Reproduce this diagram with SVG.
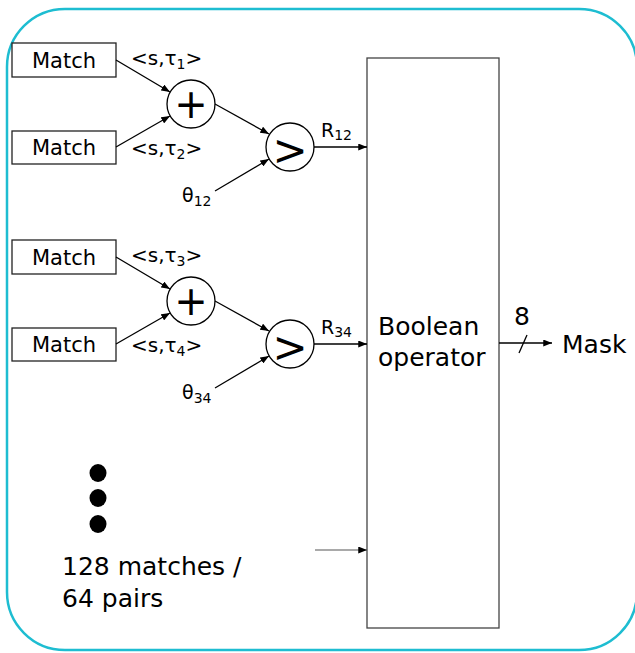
<svg xmlns="http://www.w3.org/2000/svg" width="635" height="653" viewBox="0 0 635 653">
<defs>
<style>
text{font-family:"DejaVu Sans","Liberation Sans",sans-serif;fill:#000}
.box{fill:#fff;stroke:#222;stroke-width:1.3}
.circ{fill:#fff;stroke:#000;stroke-width:1.3}
.lbl{font-size:20px}
.lbl2{font-size:19px}
.sub{font-size:14px}
.match{font-size:21px;text-anchor:middle}
.big{font-size:25px}
.op{text-anchor:middle}
.edge{stroke:#000;stroke-width:1.3;fill:none}
</style>
<marker id="arr" viewBox="0 0 10 8" refX="10" refY="4" markerWidth="9" markerHeight="7" markerUnits="userSpaceOnUse" orient="auto">
<path d="M0,0 L10,4 L0,8 Z" fill="#000"/>
</marker>
</defs>
<rect id="frame" x="7" y="9" width="630" height="641" rx="58" ry="58" fill="#fff" stroke="#1ebdd1" stroke-width="2.5"/>

<g id="match1"><rect class="box" x="12" y="43" width="104" height="34"/><text class="match" x="64" y="68">Match</text></g>
<g id="match2"><rect class="box" x="12" y="131" width="104" height="33"/><text class="match" x="64" y="155">Match</text></g>
<g id="match3"><rect class="box" x="12" y="240" width="104" height="34"/><text class="match" x="64" y="265">Match</text></g>
<g id="match4"><rect class="box" x="12" y="328" width="104" height="33"/><text class="match" x="64" y="352">Match</text></g>

<g id="plus1"><circle class="circ" cx="191" cy="104" r="24"/><text class="op" x="191" y="118" font-size="40">+</text></g>
<g id="plus2"><circle class="circ" cx="191" cy="301" r="24"/><text class="op" x="191" y="315" font-size="40">+</text></g>
<g id="gt1"><circle class="circ" cx="290" cy="147" r="24"/><text class="op" x="290" y="165" font-size="42">&gt;</text></g>
<g id="gt2"><circle class="circ" cx="290" cy="344" r="24"/><text class="op" x="290" y="362" font-size="42">&gt;</text></g>

<g id="boolean"><rect x="367" y="58" width="132" height="570" fill="#fff" stroke="#444" stroke-width="1.3"/>
<text class="big" x="378" y="335">Boolean</text><text class="big" x="378" y="366">operator</text></g>

<g id="mask"><text class="big" x="562" y="353">Mask</text></g>

<g id="dots"><ellipse cx="98" cy="473" rx="8.5" ry="9"/><ellipse cx="98" cy="498" rx="8.5" ry="9"/><ellipse cx="98" cy="524" rx="8.5" ry="9"/></g>
<g id="note"><text class="big" x="62" y="575" font-size="26">128 matches /</text><text class="big" x="62" y="607" font-size="26">64 pairs</text></g>

<g id="labels">
<text class="lbl" x="131" y="65">&lt;s,τ<tspan class="sub" dy="4">1</tspan><tspan dy="-4">&gt;</tspan></text>
<text class="lbl" x="131" y="155">&lt;s,τ<tspan class="sub" dy="4">2</tspan><tspan dy="-4">&gt;</tspan></text>
<text class="lbl" x="131" y="262">&lt;s,τ<tspan class="sub" dy="4">3</tspan><tspan dy="-4">&gt;</tspan></text>
<text class="lbl" x="131" y="352">&lt;s,τ<tspan class="sub" dy="4">4</tspan><tspan dy="-4">&gt;</tspan></text>
<text class="lbl2" x="182" y="202">θ<tspan class="sub" dy="4">12</tspan></text>
<text class="lbl2" x="182" y="399">θ<tspan class="sub" dy="4">34</tspan></text>
<text class="lbl2" x="321" y="137">R<tspan class="sub" dy="3">12</tspan></text>
<text class="lbl2" x="321" y="334">R<tspan class="sub" dy="3">34</tspan></text>
<text class="big" x="514" y="325">8</text>
</g>

<g id="connectors">
<line class="edge" x1="116" y1="60" x2="170" y2="92" marker-end="url(#arr)"/>
<line class="edge" x1="116" y1="147" x2="170" y2="116" marker-end="url(#arr)"/>
<line class="edge" x1="215" y1="104" x2="269" y2="134" marker-end="url(#arr)"/>
<line class="edge" x1="215" y1="191" x2="269" y2="159" marker-end="url(#arr)"/>
<line class="edge" x1="314" y1="147" x2="367" y2="147" marker-end="url(#arr)"/>
<line class="edge" x1="116" y1="257" x2="170" y2="289" marker-end="url(#arr)"/>
<line class="edge" x1="116" y1="344" x2="170" y2="313" marker-end="url(#arr)"/>
<line class="edge" x1="215" y1="301" x2="269" y2="331" marker-end="url(#arr)"/>
<line class="edge" x1="215" y1="388" x2="269" y2="356" marker-end="url(#arr)"/>
<line class="edge" x1="314" y1="344" x2="367" y2="344" marker-end="url(#arr)"/>
<line class="edge" x1="499" y1="343" x2="552" y2="343" marker-end="url(#arr)"/>
<line class="edge" x1="519" y1="353" x2="527" y2="335"/>
<line x1="315" y1="550" x2="367" y2="550" stroke="#555" stroke-width="1.2" marker-end="url(#arr)"/>
</g>
</svg>
